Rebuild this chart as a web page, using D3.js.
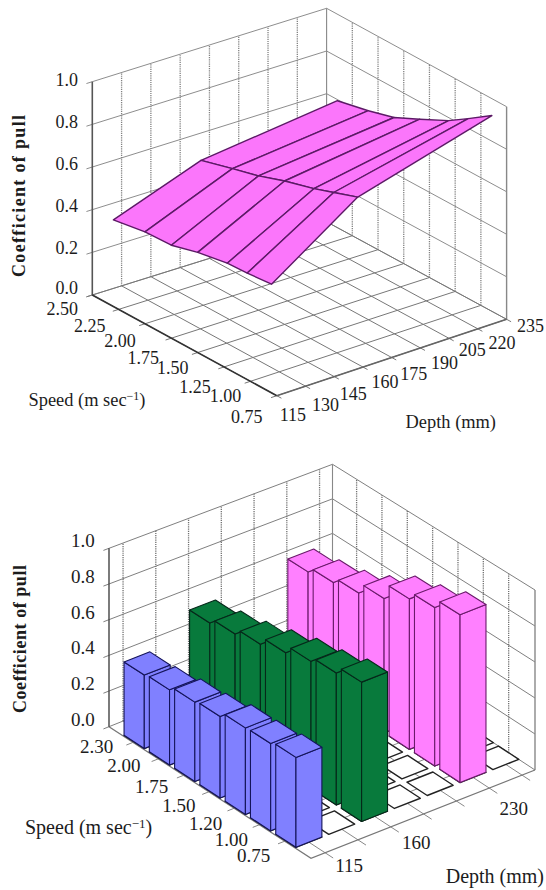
<!DOCTYPE html>
<html>
<head>
<meta charset="utf-8">
<script src="https://cdn.jsdelivr.net/npm/d3@7"></script>
<style>
  body { margin: 0; background: #fff; }
  text { font-family: "Liberation Serif", serif; fill: #1c1c1c; }
</style>
</head>
<body>
<svg id="chart" width="546" height="890"></svg>
<script>
// values
const zTicks = [0, 0.2, 0.4, 0.6, 0.8, 1];

// surface chart
const surfaceSpeedTicks = [2.5, 2.25, 2, 1.75, 1.5, 1.25, 1, 0.75];
const surfaceDepthTicks = [115, 130, 145, 160, 175, 190, 205, 220, 235];
const surfaceSpeeds = [2.3, 2, 1.75, 1.5, 1.22, 1.03, 0.8];
const surfaceDepths = [115, 160, 230];
const surface115 = [0.406, 0.431, 0.436, 0.47, 0.495, 0.5, 0.51];
const surface160 = [0.556, 0.597, 0.63, 0.673, 0.712, 0.745, 0.785];
const surface230 = [0.634, 0.666, 0.70, 0.758, 0.825, 0.885, 0.96];

// bar chart
const barSpeeds = ['2.30', '2.00', '1.75', '1.50', '1.20', '1.00', '0.75'];
const barDepthLabels = ['115', '160', '230'];
const barDepthSlots = [0, 2, 5];
const bars115 = [0.411, 0.42, 0.443, 0.454, 0.482, 0.486, 0.5];
const bars160 = [0.56, 0.59, 0.624, 0.667, 0.71, 0.736, 0.775];
const bars230 = [0.634, 0.665, 0.697, 0.757, 0.845, 0.886, 0.935];

const svg = d3.select('#chart');
const line = d3.line();
const uv = d3.scaleLinear().domain([0, 1]).range([0, 1]);

// u runs along depth, v along speed, z goes up. corners are [x, floor y, top y]
function makeProjection (c) {
  return function (u, v, z) {
    const mix = (k) => (1 - u) * (1 - v) * c.left[k] + (1 - u) * v * c.front[k] + u * v * c.right[k] + u * (1 - v) * c.back[k];
    const yFloor = mix(1), yTop = mix(2);
    return [mix(0), d3.interpolateNumber(yFloor, yTop)(uv(z))];
  };
}

function drawLine (g, pts, stroke, width, dash) {
  g.append('path')
    .attr('d', line(pts))
    .attr('fill', 'none')
    .attr('stroke', stroke)
    .attr('stroke-width', width)
    .attr('stroke-dasharray', dash || null);
}

function drawPoly (g, pts, fill, stroke, width) {
  g.append('path')
    .attr('d', line(pts) + 'Z')
    .attr('fill', fill)
    .attr('stroke', stroke)
    .attr('stroke-width', width)
    .attr('stroke-linejoin', 'round');
}

function drawLabel (g, x, y, str, anchor, size) {
  return g.append('text')
    .attr('x', x).attr('y', y)
    .attr('text-anchor', anchor)
    .attr('dominant-baseline', 'central')
    .attr('font-size', size)
    .text(str);
}

function drawTitles (g, t) {
  g.append('text')
    .attr('transform', `translate(${t.zX},${t.zY}) rotate(-90)`)
    .attr('text-anchor', 'middle')
    .attr('dominant-baseline', 'central')
    .attr('font-size', t.zSize)
    .attr('font-weight', 'bold')
    .attr('textLength', t.zLen)
    .text('Coefficient of pull');

  const sp = g.append('text')
    .attr('x', t.speedX).attr('y', t.speedY + 6)
    .attr('font-size', t.size)
    .text('Speed (m sec');
  sp.append('tspan').attr('dy', -6).attr('font-size', t.size * 0.65).text('\u22121');
  sp.append('tspan').attr('dy', 6).text(')');

  g.append('text')
    .attr('x', t.depthX).attr('y', t.depthY + 6)
    .attr('font-size', t.size)
    .text('Depth (mm)');
}

function drawWalls (g, p, uGrid, vGrid, gridColor) {
  zTicks.forEach(z => {
    drawLine(g, [p(-0.025, 0, z), p(0, 0, z), p(1, 0, z), p(1, 1, z)], gridColor, 0.9);
  });
  uGrid.forEach(u => drawLine(g, [p(u, 0, 0), p(u, 0, 1)], gridColor, 1.3, '1.2 1'));
  vGrid.forEach(v => drawLine(g, [p(1, v, 0), p(1, v, 1)], gridColor, 1.3, '1.2 1'));
  drawLine(g, [p(1, 0, 0), p(1, 0, 1)], '#888', 1.1);
  drawLine(g, [p(1, 1, 0), p(1, 1, 1)], '#888', 1.4);
}

// ---- surface chart ----
function drawSurfaceChart () {
  const g = svg.append('g');
  const p = makeProjection({
    left: [92.3, 295, 81.7],
    front: [276.8, 395.7, 182.7],
    right: [506.6, 319.3, 106.7],
    back: [326.6, 221.8, 8.3]
  });
  const u = d3.scaleLinear().domain([115, 235]).range([0, 1]);
  const v = d3.scaleLinear().domain([2.5, 0.75]).range([0, 1]);

  drawWalls(g, p, surfaceDepthTicks.map(u).slice(1, -1), surfaceSpeedTicks.map(v).slice(1, -1), '#808080');

  // floor grid
  surfaceDepthTicks.forEach(d => drawLine(g, [p(u(d), 0, 0), p(u(d), 1.025, 0)], '#777', 1));
  surfaceSpeedTicks.forEach(s => drawLine(g, [p(-0.025, v(s), 0), p(1, v(s), 0)], '#777', 1));

  // axes
  drawLine(g, [p(0, 0, 0), p(0, 0, 1)], '#555', 1.6);
  drawLine(g, [p(0, 0, 0), p(0, 1, 0)], '#333', 1.7);
  drawLine(g, [p(0, 1, 0), p(1, 1, 0)], '#666', 1.5);

  // surface
  const rows = [surface115, surface160, surface230];
  const at = (i, j) => p(u(surfaceDepths[i]), v(surfaceSpeeds[j]), rows[i][j]);
  d3.range(surfaceDepths.length - 2, -1, -1).forEach(i => {
    d3.range(surfaceSpeeds.length - 1).forEach(j => {
      drawPoly(g, [at(i, j), at(i, j + 1), at(i + 1, j + 1), at(i + 1, j)], '#fb76fb', '#5c1a66', 1.4);
    });
  });

  // tick labels
  zTicks.forEach(z => {
    const q = p(0, 0, z);
    const lift = z === 0 ? 2 : 0;
    drawLabel(g, 78, q[1] - 1.5 - 4 * (1 - z) - lift, d3.format('.1f')(z), 'end', 18);
  });
  const speedNudge = [[-30, 14], [-29, 17], [-25, 17], [-28, 20], [-25, 15], [-29, 20], [-25, 15], [-30, 21]];
  surfaceSpeedTicks.forEach((s, i) => {
    const q = p(0, v(s), 0);
    drawLabel(g, q[0] + speedNudge[i][0], q[1] + speedNudge[i][1], d3.format('.2f')(s), 'middle', 18);
  });
  const depthNudge = [[16, 19], [20, 19], [19, 17], [22, 15], [22, 16], [24, 15], [23, 12], [24, 14], [24, 7]];
  surfaceDepthTicks.forEach((d, i) => {
    const q = p(u(d), 1, 0);
    drawLabel(g, q[0] + depthNudge[i][0], q[1] + depthNudge[i][1], String(d), 'middle', 18);
  });

  drawTitles(g, { zX: 19, zY: 196, zLen: 162, zSize: 18, size: 18.4, speedX: 28.5, speedY: 400, depthX: 405.6, depthY: 421.7 });
}

// ---- bar chart ----
function drawBarChart () {
  const g = svg.append('g');
  const p = makeProjection({
    left: [109, 726.7, 548.3],
    front: [311, 858.3, 678.3],
    right: [535, 770, 590],
    back: [332.5, 637, 464.3]
  });
  const slots = d3.range(7);
  const u = d3.scaleBand().domain(slots).range([0.005, 1]).paddingInner(0.21);
  const v = d3.scaleBand().domain(barSpeeds).range([0.069, 0.92]).paddingInner(0.2);
  const uMid = (d) => u(d) + u.bandwidth() / 2;
  const vMid = (s) => v(s) + v.bandwidth() / 2;

  drawWalls(g, p, slots.map(uMid), barSpeeds.map(vMid), '#707070');

  // floor grid
  slots.forEach(d => drawLine(g, [p(uMid(d), 0, 0), p(uMid(d), 1.04, 0)], '#888', 1));
  barSpeeds.forEach(s => drawLine(g, [p(-0.03, vMid(s), 0), p(1, vMid(s), 0)], '#888', 1));
  drawLine(g, [p(0, 0, 0), p(0, 1, 0), p(1, 1, 0)], '#777', 1.3);
  drawLine(g, [p(0, 0, 0), p(0, 0, 1)], '#444', 1.4);

  // empty cells on the floor
  slots.forEach(d => {
    barSpeeds.forEach(s => {
      const u0 = u(d), u1 = u0 + u.bandwidth(), v0 = v(s), v1 = v0 + v.bandwidth();
      drawPoly(g, [p(u0, v0, 0), p(u0, v1, 0), p(u1, v1, 0), p(u1, v0, 0)], '#fff', '#222', 1.4);
    });
  });

  // bars, far ones first
  const series = [
    { slot: barDepthSlots[2], values: bars230, fill: '#ff80ff', stroke: '#6a1a6a' },
    { slot: barDepthSlots[1], values: bars160, fill: '#087a3c', stroke: '#06281a' },
    { slot: barDepthSlots[0], values: bars115, fill: '#8080ff', stroke: '#14145a' }
  ];
  series.forEach(b => {
    barSpeeds.forEach((s, i) => {
      const h = b.values[i];
      const u0 = u(b.slot), u1 = u0 + u.bandwidth(), v0 = v(s), v1 = v0 + v.bandwidth();
      drawPoly(g, [p(u0, v0, 0), p(u0, v1, 0), p(u0, v1, h), p(u0, v0, h)], b.fill, b.stroke, 1.1);
      drawPoly(g, [p(u0, v1, 0), p(u1, v1, 0), p(u1, v1, h), p(u0, v1, h)], b.fill, b.stroke, 1.1);
      drawPoly(g, [p(u0, v0, h), p(u0, v1, h), p(u1, v1, h), p(u1, v0, h)], b.fill, b.stroke, 1.1);
    });
  });

  // tick labels
  zTicks.forEach(z => {
    const q = p(0, 0, z);
    drawLabel(g, 94.7, q[1] - 7.5, d3.format('.1f')(z), 'end', 19);
  });
  const speedNudge = [[-36.5, 4], [-34.5, 7], [-32, 11.5], [-30, 14], [-28.5, 15], [-28, 14.5], [-31, 14]];
  barSpeeds.forEach((s, i) => {
    const q = p(0, vMid(s), 0);
    drawLabel(g, q[0] + speedNudge[i][0], q[1] + speedNudge[i][1], s, 'middle', 19);
  });
  const depthNudge = [[24, 13], [25.5, 16], [24.5, 20.5]];
  barDepthSlots.forEach((d, i) => {
    const q = p(uMid(d), 1, 0);
    drawLabel(g, q[0] + depthNudge[i][0], q[1] + depthNudge[i][1], barDepthLabels[i], 'middle', 19);
  });

  drawTitles(g, { zX: 20, zY: 639, zLen: 148, zSize: 18, size: 20, speedX: 25, speedY: 828, depthX: 445.7, depthY: 877 });
}

drawSurfaceChart();
drawBarChart();
</script>
</body>
</html>
